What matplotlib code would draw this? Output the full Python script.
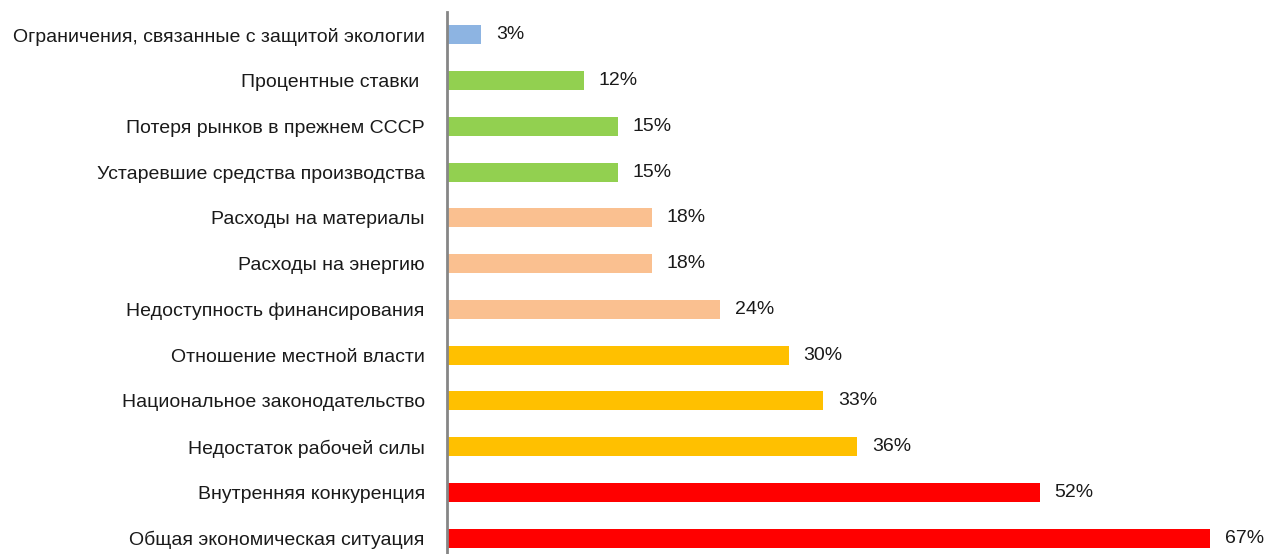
import matplotlib.pyplot as plt
from matplotlib import font_manager

categories = [
    "Ограничения, связанные с защитой экологии",
    "Процентные ставки ",
    "Потеря рынков в прежнем СССР",
    "Устаревшие средства производства",
    "Расходы на материалы",
    "Расходы на энергию",
    "Недоступность финансирования",
    "Отношение местной власти",
    "Национальное законодательство",
    "Недостаток рабочей силы",
    "Внутренняя конкуренция",
    "Общая экономическая ситуация",
]
values = [3, 12, 15, 15, 18, 18, 24, 30, 33, 36, 52, 67]
colors = ["#8DB4E2", "#92D050", "#92D050", "#92D050",
          "#FAC090", "#FAC090", "#FAC090",
          "#FFC000", "#FFC000", "#FFC000",
          "#FF0000", "#FF0000"]

names = {f.name for f in font_manager.fontManager.ttflist}
family = "Liberation Sans Narrow" if "Liberation Sans Narrow" in names else "Liberation Sans"
plt.rcParams['font.family'] = [family, 'DejaVu Sans']

fig = plt.figure(figsize=(12.64, 5.54), dpi=100)
ax = fig.add_axes([447 / 1264, -7 / 554, 809 / 1264, 549 / 554])

pos = list(range(len(categories)))
ax.barh(pos, values, height=0.41, color=colors)
for p, v in zip(pos, values):
    ax.text(v + 1.3, p, f"{v}%", va='center', ha='left', fontsize=14, color='#1a1a1a')

ax.set_ylim(len(categories) - 0.5, -0.5)
ax.set_xlim(0, 71)
ax.set_yticks(pos)
ax.set_yticklabels(categories, fontsize=14, color='#1a1a1a')
ax.tick_params(axis='y', length=0, pad=16)
ax.set_xticks([])
for s in ['top', 'right', 'bottom']:
    ax.spines[s].set_visible(False)
ax.spines['left'].set_color('#868686')
ax.spines['left'].set_linewidth(2)

fig.savefig("out.png", dpi=100)
